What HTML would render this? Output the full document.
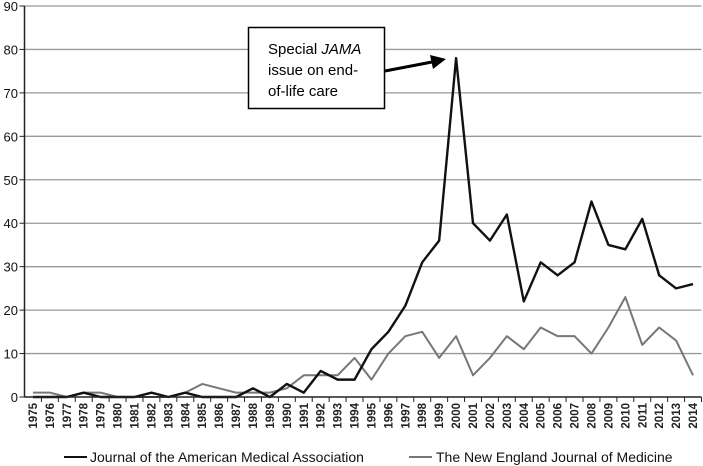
<!DOCTYPE html>
<html><head><meta charset="utf-8"><style>
body{margin:0;background:#fff}
svg{display:block;font-family:"Liberation Sans",Arial,sans-serif}
</style></head><body>
<svg id="chart" width="703" height="466">
<g id="grid"></g><g id="series"></g><g id="axes"></g>
<g>
<rect x="248.5" y="27.5" width="136" height="81" fill="#fff" stroke="#000" stroke-width="1.5"/>
<text x="268" y="54" font-size="15" font-family="Liberation Sans, sans-serif">Special <tspan font-style="italic">JAMA</tspan></text>
<text x="268" y="75" font-size="15">issue on end-</text>
<text x="268" y="96" font-size="15">of-life care</text>
<line x1="385" y1="71" x2="432" y2="62" stroke="#000" stroke-width="3"/>
<polygon points="446,59 430,55 433,69" fill="#000"/>
</g>
<g>
<line x1="64" y1="457" x2="87" y2="457" stroke="#111" stroke-width="2"/>
<text x="90" y="462" font-size="14" fill="#111">Journal of the American Medical Association</text>
<line x1="409" y1="457" x2="432" y2="457" stroke="#777" stroke-width="2"/>
<text x="436" y="462" font-size="14" fill="#111">The New England Journal of Medicine</text>
</g>
</svg>
<script>
const years=[];for(let y=1975;y<=2014;y++)years.push(y);
const jama=[0,0,0,1,0,0,0,1,0,1,0,0,0,2,0,3,1,6,4,4,11,15,21,31,36,78,40,36,42,22,31,28,31,45,35,34,41,28,25,26];
const nejm=[1,1,0,1,1,0,0,0,0,1,3,2,1,1,1,2,5,5,5,9,4,10,14,15,9,14,5,9,14,11,16,14,14,10,16,23,12,16,13,5];
const yTicks=[0,10,20,30,40,50,60,70,80,90];
const NS="http://www.w3.org/2000/svg";
const x0=24.5,x1=701.5,yb=397,yt=6;
const bw=(x1-x0)/years.length;
const X=i=>x0+bw*(i+0.5);
const Y=v=>yb-(yb-yt)*v/90;
function mk(t,a,p){const e=document.createElementNS(NS,t);for(const k in a)e.setAttribute(k,a[k]);p.appendChild(e);return e;}
const grid=document.getElementById('grid'),axes=document.getElementById('axes'),ser=document.getElementById('series');
yTicks.forEach(v=>{
 if(v>0){const g=mk('line',{x1:x0,x2:x1,y1:Y(v),y2:Y(v),stroke:'#999','stroke-width':1.3},grid);
 
 }
 const t=mk('text',{x:18,y:Y(v)+5,'text-anchor':'end','font-size':13,fill:'#111'},axes);
 t.textContent=v;
 
 
 mk('line',{x1:x0-5,x2:x0,y1:Y(v),y2:Y(v),stroke:'#222','stroke-width':1},axes);
});
const ya=mk('line',{x1:x0,x2:x0,y1:yt,y2:yb,stroke:'#222','stroke-width':1.5},axes);


const xa=mk('line',{x1:x0,x2:x1,y1:yb,y2:yb,stroke:'#222','stroke-width':1.5},axes);


years.forEach((y,i)=>{
 mk('line',{x1:x0+bw*(i+1),x2:x0+bw*(i+1),y1:yb,y2:yb+5,stroke:'#222'},axes);
 const t=mk('text',{transform:`translate(${X(i)+4},${yb+6}) rotate(-90)`,'text-anchor':'end','font-size':11.5,'font-weight':'bold',fill:'#222'},axes);
 t.textContent=y;
 
 
});
function line(d,c,w,n){
 const p=mk('polyline',{points:d.map((v,i)=>X(i)+','+Y(v)).join(' '),fill:'none',stroke:c,'stroke-width':w,'stroke-linejoin':'round'},ser);
 
 
}
line(nejm,'#777',2,'nejm-line');
line(jama,'#111',2.4,'jama-line');
</script>
</body></html>
